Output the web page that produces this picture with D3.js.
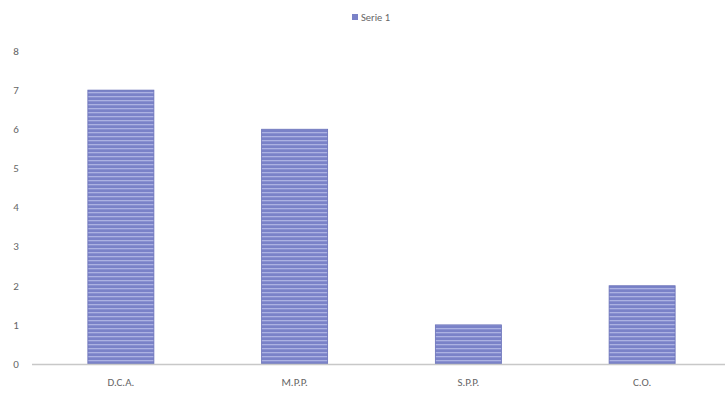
<!DOCTYPE html>
<html><head><meta charset="utf-8">
<script src="https://cdn.jsdelivr.net/npm/d3@7"></script>
<style>body{margin:0;background:#fff}svg{display:block}text{font-family:Calibri,"Liberation Sans","Open Sans",sans-serif}</style>
</head><body><div id="c"></div>
<script>
const categories = ["D.C.A.", "M.P.P.", "S.P.P.", "C.O."];
const values = [7, 6, 1, 2];
const yTicks = [0,1,2,3,4,5,6,7,8];
const seriesName = "Serie 1";

const W = 725, H = 393;
const svg = d3.select("#c").append("svg").attr("width", W).attr("height", H);
const defs = svg.append("defs");
const pat = defs.append("pattern").attr("id","stripes").attr("patternUnits","userSpaceOnUse")
  .attr("width", 8).attr("height", 4);
pat.append("rect").attr("width",8).attr("height",4).attr("fill","#7a82c8");
pat.append("rect").attr("y",0).attr("width",8).attr("height",1.3).attr("fill","#acb2e2");

const x = d3.scaleBand().domain(categories).range([34, 729]).paddingInner(0.62).paddingOuter(0.31);
const y = d3.scaleLinear().domain([0, 8]).range([364, 51]);

// y tick labels
svg.append("g").selectAll("text").data(yTicks).join("text")
  .attr("x", 16).attr("y", d => y(d)).attr("dy", "0.35em").attr("text-anchor","middle")
  .attr("font-size", 11).attr("fill", "#666").text(d => d);

// bars
svg.append("g").selectAll("rect").data(values).join("rect")
  .attr("x", (d,i) => x(categories[i])).attr("width", x.bandwidth())
  .attr("y", d => y(d)).attr("height", d => y(0) - y(d))
  .attr("fill", "url(#stripes)").attr("stroke", "#6870b8").attr("stroke-width", 0.8);

// x axis line
svg.append("line").attr("x1", 32).attr("x2", 725).attr("y1", 364.5).attr("y2", 364.5)
  .attr("stroke", "#c8c8c8").attr("stroke-width", 1.5);

// category labels
svg.append("g").selectAll("text").data(categories).join("text")
  .attr("x", d => x(d) + x.bandwidth()/2).attr("y", 382).attr("dy","0.35em")
  .attr("text-anchor","middle").attr("font-size", 11).attr("fill","#666").text(d => d);

// legend
const lg = svg.append("g");
lg.append("rect").attr("x", 352).attr("y", 14).attr("width", 6).attr("height", 6).attr("fill", "#7a82c8");
lg.append("text").attr("x", 361).attr("y", 17).attr("dy","0.35em").attr("font-size", 10.5)
  .attr("fill","#666").text(seriesName);
</script></body></html>
